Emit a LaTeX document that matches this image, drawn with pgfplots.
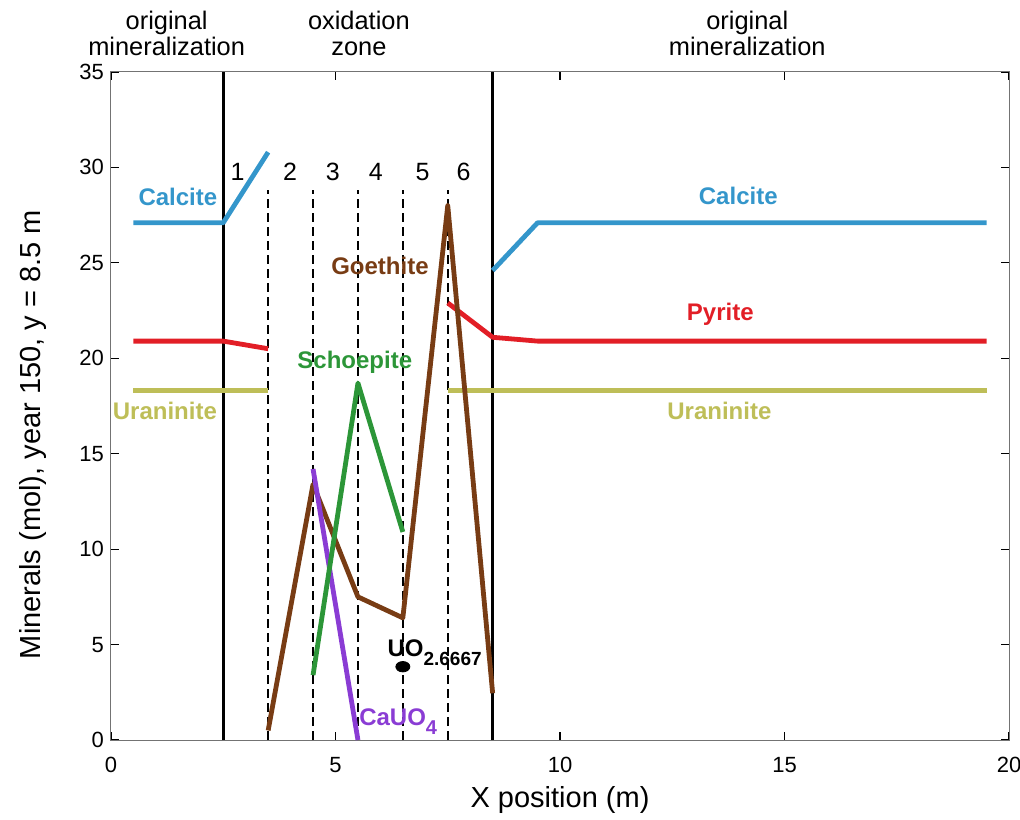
\documentclass[border=0pt]{standalone}
\usepackage{fontspec}
\setmainfont{Liberation Sans}
\usepackage{pgfplots}
\pgfplotsset{compat=1.18}
\definecolor{calc}{RGB}{52,150,203}
\definecolor{pyr}{RGB}{226,30,38}
\definecolor{ura}{RGB}{190,190,88}
\definecolor{goe}{RGB}{120,60,20}
\definecolor{sch}{RGB}{44,150,56}
\definecolor{cau}{RGB}{138,60,212}
\begin{document}
\begin{tikzpicture}
\begin{axis}[
  scale only axis, width=449pt, height=334pt,
  xmin=0, xmax=20, ymin=0, ymax=35,
  xtick={0,5,10,15,20}, ytick={0,5,10,15,20,25,30,35},
  tick align=inside, major tick length=4pt,
  axis line style={black!55, line width=0.5pt},
  tick style={black, line width=0.6pt},
  ticklabel style={font=\fontsize{11}{13}\selectfont},
  xticklabel style={yshift=-5pt},
  /pgf/number format/assume math mode=true,
  xlabel={X position (m)},
  ylabel={Minerals (mol), year 150, y = 8.5 m},
  label style={font=\fontsize{14.5}{17}\selectfont},
  xlabel style={at={(axis description cs:0.5,-0.0898)}, anchor=center},
  ylabel style={at={(axis description cs:-0.0874,0.457)}, anchor=center},
  clip=false,
  every axis plot/.append style={line join=round},
]
\coordinate (O) at (rel axis cs:0,0);
\coordinate (T) at (rel axis cs:1,1);
% solid zone boundaries
\addplot[black, line width=1.5pt] coordinates {(2.5,0) (2.5,35)};
\addplot[black, line width=1.5pt] coordinates {(8.5,0) (8.5,35)};
% dashed zone boundaries
\addplot[black, line width=0.85pt, dash pattern=on 4.5pt off 2.5pt] coordinates {(3.5,0) (3.5,28.8)};
\addplot[black, line width=0.85pt, dash pattern=on 4.5pt off 2.5pt] coordinates {(4.5,0) (4.5,28.8)};
\addplot[black, line width=0.85pt, dash pattern=on 4.5pt off 2.5pt] coordinates {(5.5,0) (5.5,28.8)};
\addplot[black, line width=0.85pt, dash pattern=on 4.5pt off 2.5pt] coordinates {(6.5,0) (6.5,28.8)};
\addplot[black, line width=0.85pt, dash pattern=on 4.5pt off 2.5pt] coordinates {(7.5,0) (7.5,28.8)};
% Uraninite
\addplot[ura, line width=2.4pt] coordinates {(0.5,18.3) (1.5,18.3) (2.5,18.3) (3.5,18.3)};
\addplot[ura, line width=2.4pt] coordinates {(7.5,18.3) (8.5,18.3) (9.5,18.3) (19.5,18.3)};
% Pyrite
\addplot[pyr, line width=2.4pt] coordinates {(0.5,20.9) (1.5,20.9) (2.5,20.9) (3.5,20.5)};
\addplot[pyr, line width=2.4pt] coordinates {(7.5,22.9) (8.5,21.1) (9.5,20.9) (19.5,20.9)};
% Calcite
\addplot[calc, line width=2.4pt] coordinates {(0.5,27.1) (1.5,27.1) (2.5,27.1) (3.5,30.8)};
\addplot[calc, line width=2.4pt] coordinates {(8.5,24.6) (9.5,27.1) (19.5,27.1)};
% Goethite
\addplot[goe, line width=2.4pt] coordinates {(3.5,0.5) (4.5,13.4) (5.5,7.5) (6.5,6.4) (7.5,28.0) (8.5,2.45)};
% CaUO4
\addplot[cau, line width=2.4pt] coordinates {(4.5,14.2) (5.5,0)};
% Schoepite
\addplot[sch, line width=2.4pt] coordinates {(4.5,3.4) (5.5,18.7) (6.5,10.9)};
% UO2.6667
\addplot[only marks, mark=*, mark size=2.6pt, mark options={black, xscale=1.35}] coordinates {(6.5,3.84)};

% labels
\node[font=\bfseries\fontsize{12}{14}\selectfont, text=calc] at (axis cs:1.49,28.45) {Calcite};
\node[font=\bfseries\fontsize{12}{14}\selectfont, text=calc] at (axis cs:13.97,28.5) {Calcite};
\node[font=\bfseries\fontsize{12}{14}\selectfont, text=goe] at (axis cs:5.99,24.83) {Goethite};
\node[font=\bfseries\fontsize{12}{14}\selectfont, text=pyr] at (axis cs:13.57,22.32) {Pyrite};
\node[font=\bfseries\fontsize{12}{14}\selectfont, text=sch] at (axis cs:5.43,19.8) {Schoepite};
\node[font=\bfseries\fontsize{12}{14}\selectfont, text=ura] at (axis cs:1.2,17.24) {Uraninite};
\node[font=\bfseries\fontsize{12}{14}\selectfont, text=ura] at (axis cs:13.55,17.24) {Uraninite};
\node[font=\bfseries\fontsize{12}{14}\selectfont, text=cau, anchor=base west, inner sep=0pt] at (axis cs:5.52,0.75) {CaUO\raisebox{-0.35em}{\fontsize{10}{12}\selectfont 4}};
\node[font=\bfseries\fontsize{12}{14}\selectfont, text=black, anchor=base west, inner sep=0pt] at (axis cs:6.15,4.4) {UO\raisebox{-0.4em}{\fontsize{9.5}{11}\selectfont 2.6667}};
% zone numbers
\node[font=\fontsize{12.5}{14}\selectfont] at (axis cs:2.82,29.76) {1};
\node[font=\fontsize{12.5}{14}\selectfont] at (axis cs:3.99,29.76) {2};
\node[font=\fontsize{12.5}{14}\selectfont] at (axis cs:4.94,29.76) {3};
\node[font=\fontsize{12.5}{14}\selectfont] at (axis cs:5.90,29.76) {4};
\node[font=\fontsize{12.5}{14}\selectfont] at (axis cs:6.94,29.76) {5};
\node[font=\fontsize{12.5}{14}\selectfont] at (axis cs:7.85,29.76) {6};
% top labels
\node[font=\fontsize{12.7}{13.2}\selectfont, align=center] at (axis cs:1.24,37.02) {original\\mineralization};
\node[font=\fontsize{12.7}{13.2}\selectfont, align=center] at (axis cs:5.52,37.02) {oxidation\\zone};
\node[font=\fontsize{12.7}{13.2}\selectfont, align=center] at (axis cs:14.17,37.02) {original\\mineralization};
\end{axis}
\pgfresetboundingbox
\path[use as bounding box] ([shift={(-55.5pt,-39.5pt)}]O) rectangle ([shift={(5.5pt,36pt)}]T);
\end{tikzpicture}
\end{document}
